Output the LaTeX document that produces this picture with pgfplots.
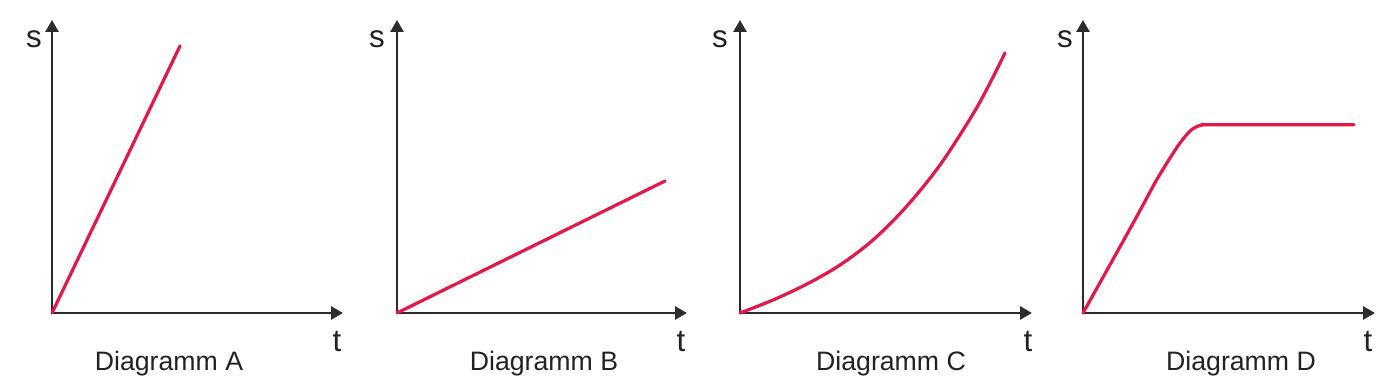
\documentclass[border=0pt]{standalone}
\usepackage{fontspec}
\setmainfont{Liberation Sans}
\usepackage{pgfplots}
\pgfplotsset{compat=1.18}
\usetikzlibrary{arrows.meta}
\definecolor{axisgray}{RGB}{43,43,43}
\definecolor{curvered}{RGB}{228,24,72}
\definecolor{textgray}{RGB}{34,34,34}
\pgfplotsset{
  panel/.style={
    scale only axis,
    height=219.75pt,
    anchor=origin,
    axis lines=left,
    xmin=0, ymin=0, ymax=293,
    enlargelimits=false,
    clip=false,
    xtick=\empty, ytick=\empty,
    axis line style={draw=axisgray, line width=2.1pt, line cap=rect,
      -{Triangle[length=9pt,width=9.75pt]}},
  },
  redline/.style={draw=curvered, line width=2.4pt, line cap=round, line join=round, mark=none},
}
\begin{document}
\begin{tikzpicture}
\path[use as bounding box] (0pt,0pt) rectangle (1050pt,291.75pt);
% Panel A
\begin{axis}[panel, at={(39pt,57pt)}, width=218.25pt, xmax=291]
\addplot[redline] coordinates {(0,0) (128,267)};
\end{axis}
% Panel B
\begin{axis}[panel, at={(297.75pt,57pt)}, width=217.5pt, xmax=290]
\addplot[redline] coordinates {(0,0) (268,132)};
\end{axis}
% Panel C
\begin{axis}[panel, at={(555pt,57pt)}, width=219pt, xmax=292]
\addplot[redline, smooth, tension=0.55] coordinates {(0,0) (33,13) (67,29) (100,48) (133,73) (166,106) (200,148) (233,199) (250,230) (265,260)};
\end{axis}
% Panel D
\begin{axis}[panel, at={(812.25pt,57pt)}, width=219pt, xmax=292]
\addplot[redline, smooth, tension=0.5] coordinates {(0,0) (43,77) (60,108) (73,132) (87,155) (97,170) (107,182) (114,186.5) (121,188.3) (130,188.3) (271,188.3)};
\end{axis}
% Labels
\begin{scope}[every node/.style={inner sep=0pt, anchor=base, text=textgray}]
\node[font=\fontsize{23.5}{28}\selectfont] at (25.5pt,255.75pt) {s};
\node[font=\fontsize{23.5}{28}\selectfont] at (282.75pt,255.75pt) {s};
\node[font=\fontsize{23.5}{28}\selectfont] at (540pt,255.75pt) {s};
\node[font=\fontsize{23.5}{28}\selectfont] at (798.75pt,255.75pt) {s};
\node[font=\fontsize{23.5}{28}\selectfont] at (252.75pt,28pt) {t};
\node[font=\fontsize{23.5}{28}\selectfont] at (510.75pt,28pt) {t};
\node[font=\fontsize{23.5}{28}\selectfont] at (771pt,28pt) {t};
\node[font=\fontsize{23.5}{28}\selectfont] at (1026pt,28pt) {t};
\node[font=\fontsize{20}{24}\selectfont] at (126.75pt,13.5pt) {Diagramm A};
\node[font=\fontsize{20}{24}\selectfont] at (408pt,13.5pt) {Diagramm B};
\node[font=\fontsize{20}{24}\selectfont] at (668.25pt,13.5pt) {Diagramm C};
\node[font=\fontsize{20}{24}\selectfont] at (930.75pt,13.5pt) {Diagramm D};
\end{scope}
\end{tikzpicture}
\end{document}
